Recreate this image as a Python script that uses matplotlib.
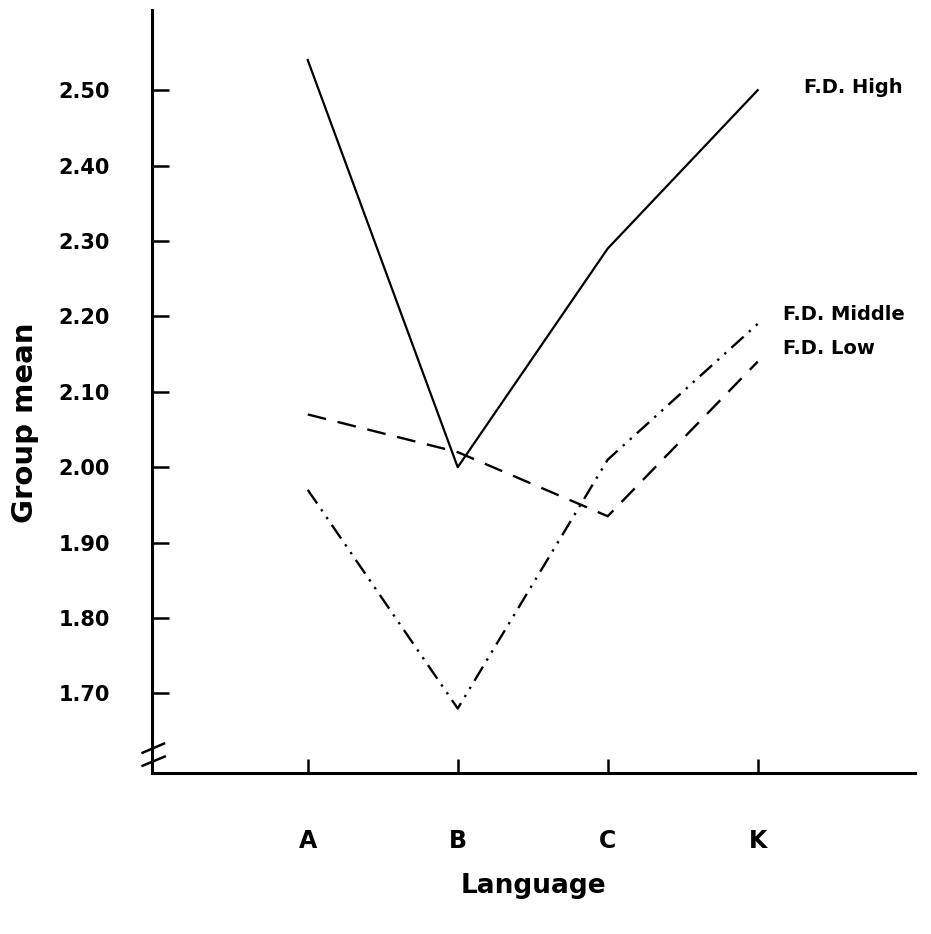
# Group mean by language for three F.D. levels

import numpy as np
import matplotlib.pyplot as plt

languages = ['A', 'B', 'C', 'K']
fd_high = [2.54, 2.00, 2.29, 2.50]
fd_middle = [1.97, 1.68, 2.01, 2.19]
fd_low = [2.07, 2.02, 1.935, 2.14]
y_ticks = [1.70, 1.80, 1.90, 2.00, 2.10, 2.20, 2.30, 2.40, 2.50]

plt.rcParams['font.family'] = ['DejaVu Sans']
plt.rcParams['font.weight'] = 'bold'

fig = plt.figure(figsize=(9.31, 9.34), dpi=100)
ax = fig.add_axes([0.163, 0.172, 0.82, 0.817])

x = np.arange(len(languages))

ax.plot(x, fd_high, color='black', lw=1.6, linestyle='-')
ax.plot(x, fd_middle, color='black', lw=1.7, linestyle=(0, (7, 3, 1, 3, 1, 3)))
ax.plot(x, fd_low, color='black', lw=1.7, linestyle=(0, (8, 5)))

# line labels next to the K end
ax.text(x[-1] + 0.31, fd_high[-1] + 0.003, 'F.D. High', fontsize=14, fontweight='bold', va='center')
ax.text(x[-1] + 0.17, fd_middle[-1] + 0.012, 'F.D. Middle', fontsize=14, fontweight='bold', va='center')
ax.text(x[-1] + 0.17, fd_low[-1] + 0.018, 'F.D. Low', fontsize=14, fontweight='bold', va='center')

ax.set_xlim(-1.04, 4.05)
ax.set_ylim(1.594, 2.606)

ax.spines['top'].set_visible(False)
ax.spines['right'].set_visible(False)
ax.spines['left'].set_linewidth(2.2)
ax.spines['bottom'].set_linewidth(2.2)

ax.set_xticks(x)
ax.set_xticklabels(languages, fontsize=17, fontweight='bold')
ax.set_yticks(y_ticks)
ax.set_yticklabels(['%.2f' % v for v in y_ticks], fontsize=15, fontweight='bold')
ax.tick_params(axis='x', direction='in', length=10, width=1.8, pad=40)
ax.tick_params(axis='y', direction='in', length=12, width=1.8, pad=30)

ax.set_xlabel('Language', fontsize=19, fontweight='bold')
ax.set_ylabel('Group mean', fontsize=21, fontweight='bold', va='center')
ax.xaxis.set_label_coords(0.50, -0.13)
ax.yaxis.set_label_coords(-0.166, 0.46)

# axis break mark at the bottom of the y axis
ax.plot([-0.012, 0.016], [0.027, 0.039], color='black', lw=1.8, transform=ax.transAxes, clip_on=False)
ax.plot([-0.012, 0.017], [0.010, 0.022], color='black', lw=1.8, transform=ax.transAxes, clip_on=False)

fig.savefig('out.png', dpi=100)
